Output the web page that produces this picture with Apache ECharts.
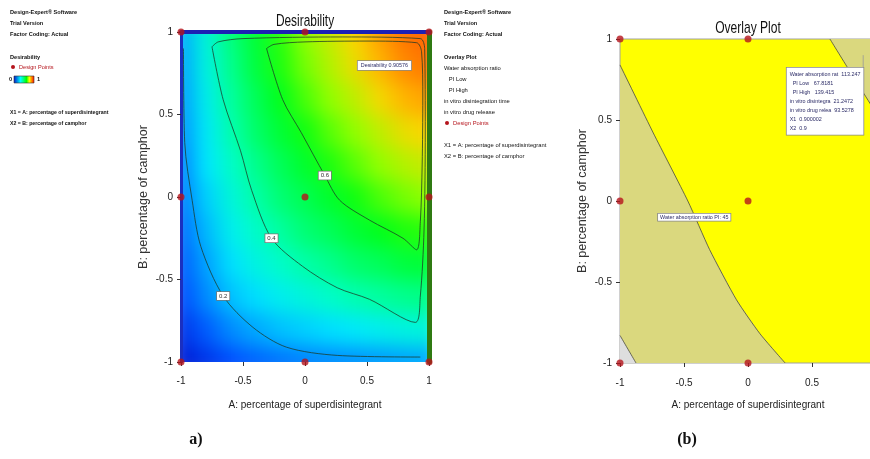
<!DOCTYPE html>
<html>
<head>
<meta charset="utf-8">
<script src="https://cdn.jsdelivr.net/npm/echarts@6/dist/echarts.min.js"></script>
<style>
  html, body { margin: 0; padding: 0; background: #fff; }
  #wrap { position: relative; width: 870px; height: 459px; overflow: hidden; background: #fff; }
  /* response surface layer, clipped to the left plot area and softened */
  #heatClip { position: absolute; left: 181px; top: 32px; width: 248px; height: 330px; overflow: hidden; }
  #heat { position: absolute; left: -12px; top: -16px; width: 273px; height: 363px; filter: blur(10px); }
  /* the overlay plot runs past the right edge of the page */
  #main { position: absolute; left: 0; top: 0; width: 900px; height: 459px; }
</style>
</head>
<body>
<div id="wrap">
  <div id="heatClip"><div id="heat"></div></div>
  <div id="main"></div>
</div>
<script>
// ---------- factor levels (coded) ----------
const factorSteps = ['-1', '-0.8', '-0.6', '-0.4', '-0.2', '0', '0.2', '0.4', '0.6', '0.8', '1'];

// ---------- desirability surface, one row per camphor level (B), columns along A ----------
const dRowBm10 = [0.02, 0.06, 0.10, 0.13, 0.15, 0.17, 0.18, 0.19, 0.20, 0.21, 0.22];
const dRowBm08 = [0.06, 0.12, 0.18, 0.22, 0.25, 0.27, 0.29, 0.31, 0.33, 0.35, 0.36];
const dRowBm06 = [0.10, 0.18, 0.25, 0.29, 0.33, 0.36, 0.39, 0.42, 0.44, 0.46, 0.47];
const dRowBm04 = [0.12, 0.21, 0.29, 0.35, 0.39, 0.43, 0.46, 0.50, 0.52, 0.55, 0.56];
const dRowBm02 = [0.14, 0.24, 0.33, 0.39, 0.44, 0.49, 0.52, 0.56, 0.59, 0.62, 0.63];
const dRowB00  = [0.16, 0.27, 0.36, 0.43, 0.49, 0.53, 0.57, 0.61, 0.65, 0.68, 0.70];
const dRowBp02 = [0.17, 0.30, 0.39, 0.46, 0.52, 0.57, 0.62, 0.66, 0.70, 0.73, 0.75];
const dRowBp04 = [0.19, 0.31, 0.42, 0.50, 0.56, 0.61, 0.66, 0.70, 0.74, 0.78, 0.80];
const dRowBp06 = [0.20, 0.33, 0.44, 0.52, 0.59, 0.65, 0.70, 0.74, 0.79, 0.83, 0.85];
const dRowBp08 = [0.21, 0.35, 0.46, 0.55, 0.62, 0.68, 0.73, 0.78, 0.83, 0.87, 0.89];
const dRowBp10 = [0.22, 0.36, 0.48, 0.56, 0.63, 0.70, 0.75, 0.80, 0.85, 0.89, 0.91];
const desirabilityRows = [dRowBm10, dRowBm08, dRowBm06, dRowBm04, dRowBm02, dRowB00,
                          dRowBp02, dRowBp04, dRowBp06, dRowBp08, dRowBp10];

// ---------- desirability contour lines (A, B) ----------
const contourLevels = [0.2, 0.4, 0.6];
const contour02 = [[-0.98, 0.9], [-0.97, 0.33], [-0.91, -0.02], [-0.84, -0.3], [-0.66, -0.6],
                   [-0.42, -0.79], [-0.15, -0.91], [0.26, -0.96], [0.93, -0.97]];
const contour04 = [[-0.75, 0.91], [-0.66, 0.59], [-0.52, 0.28], [-0.43, 0.04], [-0.27, -0.25],
                   [-0.02, -0.42], [0.26, -0.55], [0.52, -0.62], [0.89, -0.76], [0.93, -0.6],
                   [0.96, -0.2], [0.97, 0.4], [0.965, 0.9], [0.93, 0.96], [0.3, 0.97],
                   [-0.5, 0.96], [-0.7, 0.94], [-0.75, 0.91]];
const contour06 = [[-0.31, 0.9], [-0.18, 0.59], [-0.03, 0.39], [0.16, 0.13], [0.28, -0.02],
                   [0.52, -0.14], [0.79, -0.25], [0.9, -0.32], [0.93, -0.15], [0.945, 0.2],
                   [0.95, 0.6], [0.94, 0.88], [0.9, 0.935], [0.5, 0.945], [0.0, 0.94],
                   [-0.25, 0.925], [-0.31, 0.9]];
const contourLabelAt = [[-0.66, -0.6], [-0.27, -0.25], [0.16, 0.13]];

// ---------- design points (3x3 factorial, coded) ----------
const designA = [-1, 0, 1, -1, 0, 1, -1, 0, 1];
const designB = [-1, -1, -1, 0, 0, 0, 1, 1, 1];

// ---------- optimum ----------
const optimumAB = [0.9, 0.9];
const optimumDesirability = '0.90576';
const optimumResponses = [
  'Water absorption rat  113.247',
  '  PI Low   67.8181',
  '  PI High   139.415',
  'in vitro disintegra  21.2472',
  'in vitro drug relea  93.5278',
  'X1  0.900002',
  'X2  0.9'
];

// ---------- overlay plot boundaries (A, B) ----------
const waterPIBoundary = [[-1, 0.84], [-0.74, 0.42], [-0.47, 0.0], [-0.3, -0.3], [-0.09, -0.61],
                         [0.094, -0.82], [0.29, -1]];
const upperRightBoundary = [[0.64, 1], [0.8, 0.795], [0.953, 0.603], [1, 0.543]];
const lowerCornerBoundary = [[-1, -0.83], [-0.875, -1]];
const waterPILabelAt = [-0.42, -0.1];
const waterPILabel = 'Water absorption ratio PI: 45';

// ---------- text blocks ----------
const softwareInfo = ['Design-Expert® Software', 'Trial Version', 'Factor Coding: Actual'];
const factorKey = ['X1 = A: percentage of superdisintegrant', 'X2 = B: percentage of camphor'];
const overlayResponses = ['Water absorption ratio', '   PI Low', '   PI High',
                          'in vitro disintegration time', 'in vitro drug release'];
const panelTitles = ['Desirability', 'Overlay Plot'];
const panelCaptions = ['a)', '(b)'];
const xAxisName = 'A: percentage of superdisintegrant';
const yAxisName = 'B: percentage of camphor';

// ---------- styles ----------
const SANS = '"Liberation Sans",Arial,sans-serif';
const rampColors = ['#0010c8', '#004dff', '#009aff', '#00e7ff', '#00ffc2', '#00ff6a',
                    '#00ff12', '#92ff00', '#ffd500', '#ff6a00', '#ff1a00'];
const pointRed = '#b5141c';
const khaki = '#dad87e';

// ================= surface layer =================
const heatCells = [];
desirabilityRows.forEach((row, j) => row.forEach((v, i) => heatCells.push([i, j, v])));

const heat = echarts.init(document.getElementById('heat'), null, { renderer: 'canvas' });
heat.setOption({
  animation: false,
  grid: { left: 0, right: 0, top: 0, bottom: 0 },
  xAxis: { type: 'category', data: factorSteps, show: false },
  yAxis: { type: 'category', data: factorSteps, show: false },
  visualMap: { show: false, min: 0, max: 1, dimension: 2, inRange: { color: rampColors } },
  series: [{ type: 'heatmap', data: heatCells, itemStyle: { borderWidth: 0 } }]
});

// ================= main layer =================
const designPoints = designA.map((a, i) => [a, designB[i]]);

function textEl(x, y, text, opts) {
  opts = opts || {};
  return {
    type: 'text', x: x, y: y, silent: true, scaleX: opts.scaleX || 1,
    style: {
      text: text,
      font: (opts.weight || 'bold') + ' ' + (opts.size || 5.6) + 'px ' + (opts.family || SANS),
      fill: opts.color || '#111',
      textAlign: opts.align || 'left',
      textVerticalAlign: 'middle'
    }
  };
}

const graphics = [];
softwareInfo.forEach((t, i) => graphics.push(textEl(10, 12 + i * 11, t)));
graphics.push(textEl(10, 57, 'Desirability'));
graphics.push({ type: 'circle', shape: { cx: 13, cy: 67, r: 2 }, style: { fill: pointRed } });
graphics.push(textEl(19, 67, 'Design Points', { color: pointRed, weight: 'normal' }));
graphics.push(textEl(9, 79, '0'));
graphics.push({
  type: 'rect', shape: { x: 14, y: 76, width: 20, height: 7 },
  style: {
    stroke: '#333', lineWidth: 0.6,
    fill: new echarts.graphic.LinearGradient(0, 0, 1, 0, [
      { offset: 0, color: '#0010c8' }, { offset: 0.33, color: '#00ffff' },
      { offset: 0.62, color: '#00ff00' }, { offset: 0.76, color: '#ffff00' },
      { offset: 1, color: '#ff0000' }])
  }
});
graphics.push(textEl(37, 79, '1'));
factorKey.forEach((t, i) => graphics.push(textEl(10, 113 + i * 11, t, { size: 5.2 })));

softwareInfo.forEach((t, i) => graphics.push(textEl(444, 12 + i * 11, t)));
graphics.push(textEl(444, 57, 'Overlay Plot'));
overlayResponses.forEach((t, i) => graphics.push(textEl(444, 68 + i * 11, t, { weight: 'normal', size: 5.8 })));
graphics.push({ type: 'circle', shape: { cx: 447, cy: 123, r: 2 }, style: { fill: pointRed } });
graphics.push(textEl(453, 123, 'Design Points', { color: pointRed, weight: 'normal', size: 5.8 }));
factorKey.forEach((t, i) => graphics.push(textEl(444, 145 + i * 11, t, { weight: 'normal', size: 5.8 })));

graphics.push(textEl(305, 21, panelTitles[0], { size: 17, weight: 'normal', align: 'center', scaleX: 0.7 }));
graphics.push(textEl(748, 28, panelTitles[1], { size: 17, weight: 'normal', align: 'center', scaleX: 0.71 }));
graphics.push(textEl(196, 440, panelCaptions[0], { size: 16, family: '"Liberation Serif","DejaVu Serif",serif', align: 'center' }));
graphics.push(textEl(687, 440, panelCaptions[1], { size: 16, family: '"Liberation Serif","DejaVu Serif",serif', align: 'center' }));

const tickLabel = { fontFamily: SANS, fontSize: 10, color: '#222' };
const nameStyle = { fontFamily: SANS, fontSize: 10, color: '#222' };
const yNameStyle = { fontFamily: SANS, fontSize: 12.5, color: '#333' };

function valueAxis(extra) {
  return Object.assign({
    type: 'value', min: -1, max: 1, interval: 0.5,
    splitLine: { show: false },
    axisTick: { show: true, length: 4, lineStyle: { color: '#333', width: 1 } },
    axisLabel: Object.assign({ margin: 8 }, tickLabel)
  }, extra);
}
function frameAxis(extra) {
  return Object.assign({
    type: 'value', min: -1, max: 1, interval: 0.5,
    splitLine: { show: false }, axisTick: { show: false }, axisLabel: { show: false }
  }, extra);
}

const regionPolys = [
  { pts: waterPIBoundary.concat([[-1, -1]]), fill: khaki },
  { pts: upperRightBoundary.concat([[1, 1]]), fill: khaki },
  { pts: lowerCornerBoundary.concat([[-1, -1]]), fill: '#dedede' }
];

const contourLine = (data) => ({
  type: 'line', xAxisIndex: 0, yAxisIndex: 0, data: data, smooth: 0.3,
  symbol: 'none', silent: true, z: 3,
  lineStyle: { color: '#1d3a26', width: 0.9, opacity: 0.85 }
});
const boundaryLine = (data) => ({
  type: 'line', xAxisIndex: 1, yAxisIndex: 1, data: data, smooth: 0.2,
  symbol: 'none', silent: true, z: 3,
  lineStyle: { color: '#4a4a40', width: 0.8 }
});
const flagLabel = {
  fontFamily: SANS, fontSize: 5.4, color: '#2b2b66', backgroundColor: '#ffffff', opacity: 1,
  borderColor: '#888', borderWidth: 0.8, padding: [2, 3]
};
const hiddenAnchor = { color: '#ffffff', opacity: 0 };

const chart = echarts.init(document.getElementById('main'), null, { renderer: 'canvas' });
chart.setOption({
  animation: false,
  backgroundColor: 'transparent',
  graphic: { elements: graphics },
  grid: [
    { left: 181, top: 32, width: 248, height: 330 },
    { left: 620, top: 39, width: 256, height: 324, show: true, backgroundColor: '#ffff00',
      borderColor: '#a0a0a0', borderWidth: 1 }
  ],
  xAxis: [
    valueAxis({ gridIndex: 0, name: xAxisName, nameLocation: 'middle',
      nameGap: 38, nameTextStyle: nameStyle, axisLine: { show: false, onZero: false },
      axisLabel: Object.assign({ margin: 14 }, tickLabel) }),
    valueAxis({ gridIndex: 1, name: xAxisName, nameLocation: 'middle',
      nameGap: 37, nameTextStyle: nameStyle, axisLine: { show: false, onZero: false },
      axisLabel: Object.assign({ margin: 15 }, tickLabel) }),
    frameAxis({ gridIndex: 0, position: 'top',
      axisLine: { show: true, onZero: false, lineStyle: { color: '#1c20b4', width: 4 } } })
  ],
  yAxis: [
    valueAxis({ gridIndex: 0, name: yAxisName, nameLocation: 'middle', nameGap: 31,
      nameTextStyle: yNameStyle,
      axisLine: { show: true, onZero: false, lineStyle: { color: '#1a2fc0', width: 3 } } }),
    valueAxis({ gridIndex: 1, name: yAxisName, nameLocation: 'middle', nameGap: 31,
      nameTextStyle: yNameStyle, axisLine: { show: false, onZero: false } }),
    frameAxis({ gridIndex: 0, position: 'right',
      axisLine: { show: true, onZero: false, lineStyle: { color: '#2f7a12', width: 5 } } })
  ],
  series: [
    contourLine(contour02), contourLine(contour04), contourLine(contour06),
    {
      type: 'scatter', xAxisIndex: 0, yAxisIndex: 0, data: contourLabelAt, z: 6,
      symbolSize: 1, itemStyle: hiddenAnchor, silent: true,
      label: { show: true, position: 'inside', formatter: p => contourLevels[p.dataIndex].toFixed(1),
        fontFamily: SANS, fontSize: 6, color: '#333', backgroundColor: '#ffffff', opacity: 1,
        borderColor: '#777', borderWidth: 0.8, padding: [1, 2] }
    },
    {
      type: 'scatter', xAxisIndex: 0, yAxisIndex: 0, data: designPoints, clip: false, z: 8,
      symbolSize: 7, itemStyle: { color: pointRed }, silent: true
    },
    {
      type: 'scatter', xAxisIndex: 0, yAxisIndex: 0, data: [optimumAB], clip: false, z: 7,
      symbolSize: 1, itemStyle: hiddenAnchor, silent: true,
      label: Object.assign({ show: true, position: [-5, 13], align: 'right', verticalAlign: 'top',
        formatter: 'Desirability ' + optimumDesirability }, flagLabel)
    },
    {
      type: 'custom', xAxisIndex: 1, yAxisIndex: 1, z: 1, silent: true,
      data: regionPolys.map(r => r.pts[0]),
      renderItem: (params, api) => {
        const r = regionPolys[params.dataIndex];
        return { type: 'polygon', shape: { points: r.pts.map(p => api.coord(p)) },
                 style: { fill: r.fill } };
      }
    },
    boundaryLine(waterPIBoundary), boundaryLine(upperRightBoundary), boundaryLine(lowerCornerBoundary),
    {
      type: 'line', xAxisIndex: 1, yAxisIndex: 1, z: 4, silent: true, symbol: 'none',
      data: [optimumAB, [optimumAB[0], optimumAB[1] - 0.08]],
      lineStyle: { color: '#999', width: 0.8 }
    },
    {
      type: 'scatter', xAxisIndex: 1, yAxisIndex: 1, data: [optimumAB], clip: false, z: 7,
      symbolSize: 1, itemStyle: hiddenAnchor, silent: true,
      label: Object.assign({ show: true, position: [-76, 13], align: 'left', verticalAlign: 'top',
        lineHeight: 9, formatter: optimumResponses.join('\n') }, flagLabel)
    },
    {
      type: 'scatter', xAxisIndex: 1, yAxisIndex: 1, data: [waterPILabelAt], z: 7,
      symbolSize: 1, itemStyle: hiddenAnchor, silent: true,
      label: Object.assign({ show: true, position: 'inside', formatter: waterPILabel }, flagLabel, { padding: [1, 2] })
    },
    {
      type: 'scatter', xAxisIndex: 1, yAxisIndex: 1, data: designPoints, clip: false, z: 8,
      symbolSize: 7, itemStyle: { color: pointRed }, silent: true
    }
  ]
});
</script>
</body>
</html>
